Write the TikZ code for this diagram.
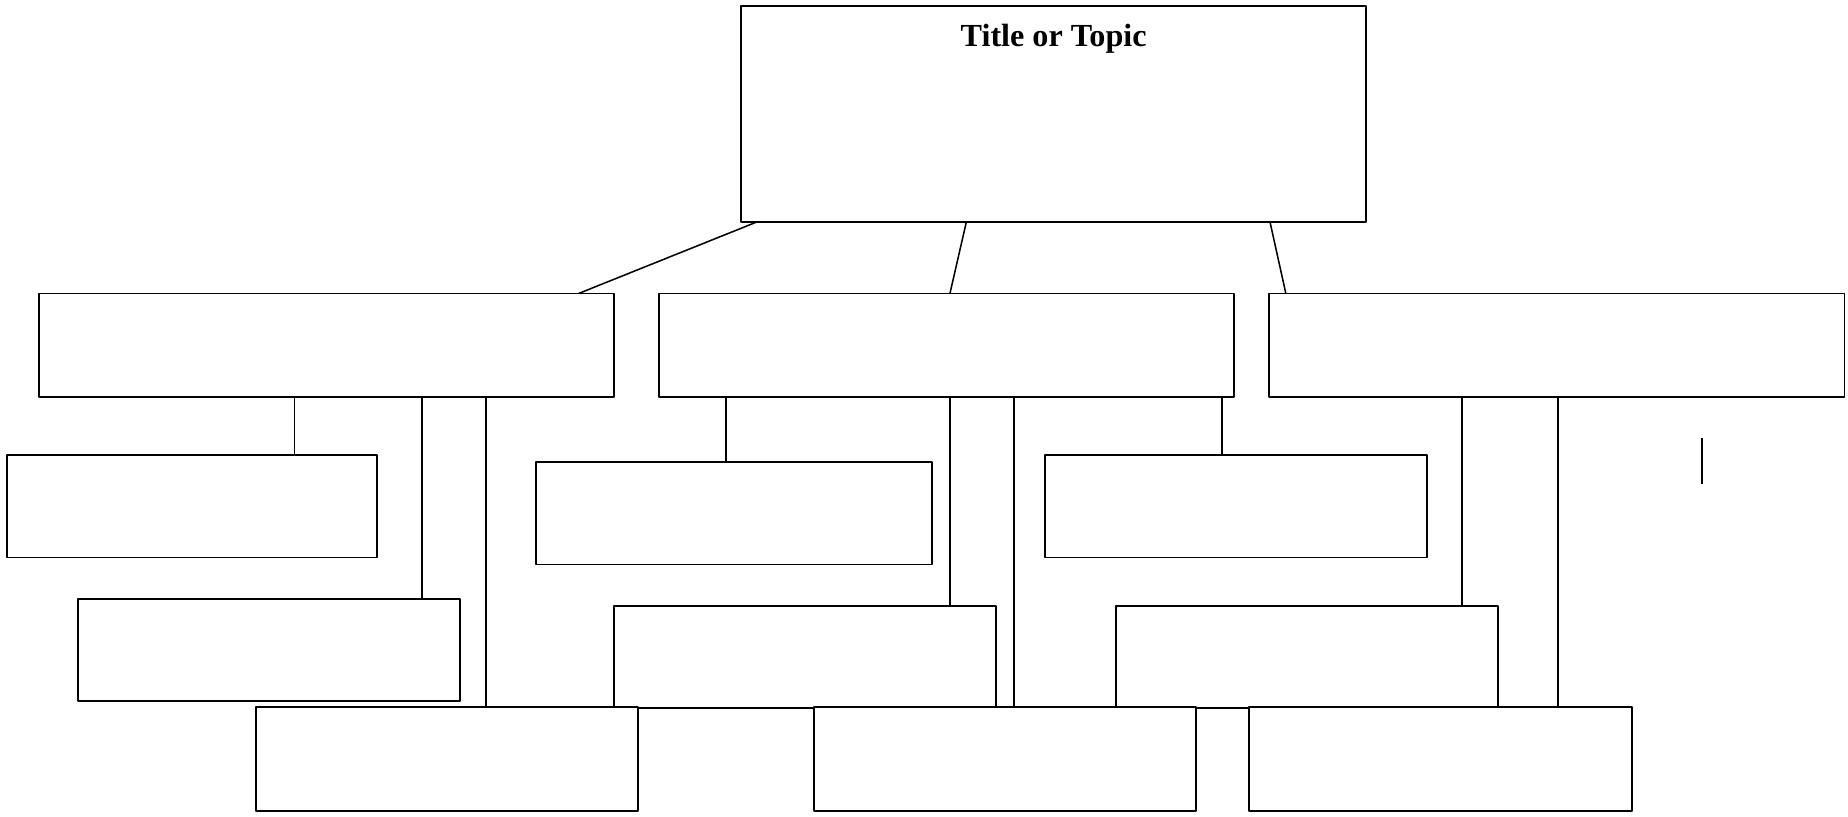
\documentclass[tikz,border=0pt]{standalone}
\usepackage{fontspec}
\setmainfont{Liberation Serif}
\usetikzlibrary{positioning, calc}

\tikzset{
  box/.style={draw, line width=1.6pt, fill=white, inner sep=0pt, outer sep=0pt, anchor=north west},
  link/.style={line width=1.3pt}
}

\begin{document}
\begin{tikzpicture}[x=1pt, y=-1pt, line join=round, line cap=butt]
      \useasboundingbox (0,0) rectangle (1568,693);
      % topic and the three main branches
      \node[box, minimum width=530pt, minimum height=183pt] (topic) at (629,5) {};
      \node[anchor=base] (title) at (894,39.6) {\fontsize{27.3}{32}\selectfont\bfseries Title or Topic};
      \foreach \n/\x in {catA/33, catB/559, catC/1077} {
        \node[box, minimum width=488pt, minimum height=88pt] (\n) at (\x,249) {};
      }
      \foreach \xa/\c/\xb in {643/catA/491, 820/catB/806, 1077.5/catC/1091} {
        \draw[link] (\xa,0 |- topic.south) -- (\xb,0 |- \c.north);
      }
      % second level boxes
      \foreach \n/\x/\y/\w in {a1/6/386/314, a2/66/508/324, b1/455/392/336,
                              b2/521/514/324, b3/887/386/324, c1/947/514/324} {
        \node[box, minimum width=\w pt, minimum height=87pt] (\n) at (\x,\y) {};
      }
      % bottom row
      \foreach \n/\x/\w in {d1/217/324, d2/691/324, d3/1060/325} {
        \node[box, minimum width=\w pt, minimum height=88pt] (\n) at (\x,600) {};
      }
      \foreach \p/\c/\x in {catA/a1/249.8, catA/a2/358, catA/d1/412.3,
                            catB/b1/616, catB/b2/806, catB/d2/860.5, catB/b3/1036.7,
                            catC/c1/1240.5, catC/d3/1322} {
        \draw[link] (\x,0 |- \p.south) -- (\x,0 |- \c.north);
      }
      \draw[link] (1444,372) -- (1444,411);
    \end{tikzpicture}
\end{document}
